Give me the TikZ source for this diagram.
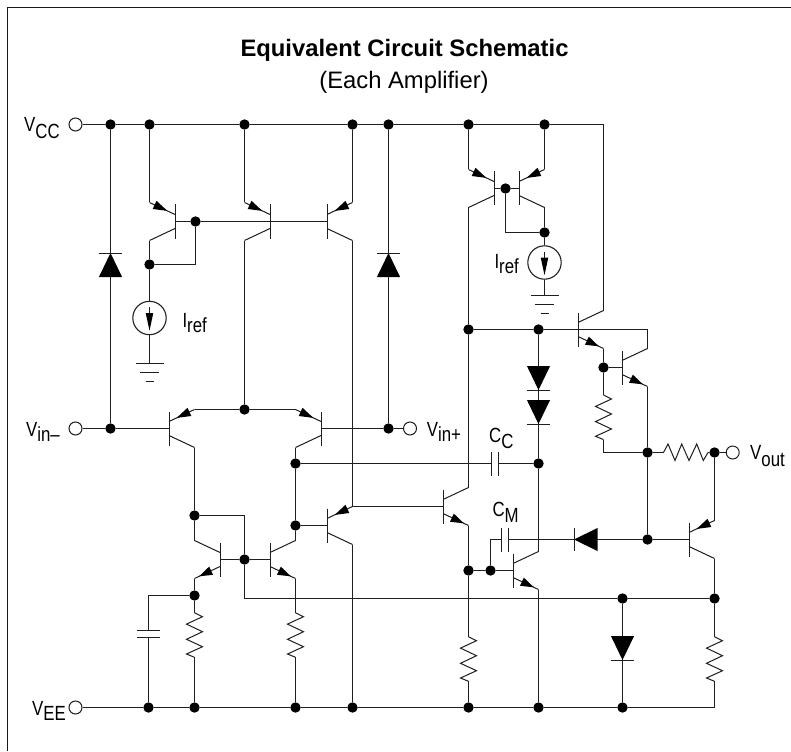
\documentclass[tikz,border=0pt]{standalone}
\usepackage{fontspec}
\setmainfont{Liberation Sans}
\newfontfamily\narrowf[FakeStretch=0.82]{Liberation Sans}
\tikzset{
  x=1pt,y=-1pt,
  wire/.style={line width=1.15pt,draw=black!88},
  part/.style={line width=1pt,draw=black!88},
  jdot/.style={circle,fill=black,inner sep=0pt,minimum size=10.4pt},
  term/.style={circle,draw=black!88,line width=1pt,fill=white,inner sep=0pt,minimum size=13pt},
  csrc/.style={circle,draw=black!88,line width=1.1pt,fill=white,inner sep=0pt,minimum size=33.4pt},
  lab/.style={inner sep=0pt,anchor=base west,font=\narrowf\fontsize{20.5}{24}\selectfont},
  ttl/.style={inner sep=0pt,anchor=base,text=black},
}
\newcommand\VS[3][6]{#2\raisebox{-#1pt}{#3}}
% transistor with emitter on the top lead (arrow toward the bar)
\newcommand\qtop[4]{\begin{scope}[shift={(#2,#3)},xscale=#4]
  \coordinate (#1-b) at (0,0);\coordinate (#1-e) at (25.5,-19);\coordinate (#1-c) at (25.5,19);
  \draw[part] (0,-17) -- (0,17);
  \draw[part] (0,-7) -- (#1-e);\draw[part] (0,7) -- (#1-c);
  \fill[black] (7.65,-10.6) -- (22.3,-12.5) -- (18.5,-20.7) -- cycle;
\end{scope}}
% transistor with emitter on the bottom lead (arrow away from the bar)
\newcommand\qbot[4]{\begin{scope}[shift={(#2,#3)},xscale=#4]
  \coordinate (#1-b) at (0,0);\coordinate (#1-c) at (25.5,-19);\coordinate (#1-e) at (25.5,19);
  \draw[part] (0,-17) -- (0,17);
  \draw[part] (0,-7) -- (#1-c);\draw[part] (0,7) -- (#1-e);
  \fill[black] (20.9,16.84) -- (7,15.3) -- (10.8,7.1) -- cycle;
\end{scope}}
\newcommand\resV[3]{\begin{scope}[shift={(#2,#3)}]
  \coordinate (#1-t) at (0,0);\coordinate (#1-b) at (0,44.6);
  \draw[part] (#1-t) -- (8,4) -- (-8,11.4) -- (8,19) -- (-8,26.6) -- (8,34) -- (-8,41.3) -- (#1-b);
\end{scope}}
\newcommand\diodeV[3]{\begin{scope}[shift={(#1,#2)},yscale=#3]
  \fill[black] (0,0) -- (11.6,24) -- (-11.6,24) -- cycle;
  \draw[part] (-11.6,0) -- (11.6,0);
\end{scope}}
\newcommand\diodeH[2]{\begin{scope}[shift={(#1,#2)}]
  \fill[black] (0,0) -- (23.7,-11.6) -- (23.7,11.6) -- cycle;
  \draw[part] (0,-11.6) -- (0,11.6);
\end{scope}}
\newcommand\gnd[2]{\begin{scope}[shift={(#1,#2)}]
  \draw[part] (-14,0) -- (14,0);\draw[part] (-9.5,9) -- (9.5,9);\draw[part] (-4,18) -- (4,18);
\end{scope}}
\newcommand\csarrow[2]{\begin{scope}[shift={(#1,#2)}]
  \draw[part] (0,-11) -- (0,0);
  \fill[black] (-3.8,-5) -- (3.8,-5) -- (0,12.7) -- cycle;
\end{scope}}
\begin{document}
\begin{tikzpicture}
\useasboundingbox (0,0) rectangle (791,751);
\draw[line width=1.5pt,black!90] (791,7.5) -- (7.5,7.5) -- (7.5,751);
\node[ttl,font=\bfseries\fontsize{23.8}{26}\selectfont] (title) at (404.5,56.5) {Equivalent Circuit Schematic};
\node[ttl,font=\fontsize{23.8}{26}\selectfont] (subtitle) at (404,89) {(Each Amplifier)};

% transistors
\qtop{Qa}{175}{221.5}{-1}
\qtop{Qb}{270}{221.5}{-1}
\qtop{Qc}{327}{221.5}{1}
\qtop{DL}{169}{428.5}{1}
\qtop{DR}{321}{428.5}{-1}
\qbot{ML}{220}{559.5}{-1}
\qbot{MR}{270}{559.5}{1}
\qtop{Qe}{327}{525.5}{1}
\qbot{Mid}{443}{506.5}{1}
\qtop{TL}{494}{188.5}{-1}
\qtop{TR}{519}{188.5}{1}
\qbot{Da}{578}{329.5}{1}
\qbot{Db}{622}{367.5}{1}
\qbot{QB}{513}{570.5}{1}
\qtop{QO}{689}{539.5}{1}

% resistors
\resV{Ra}{194.5}{612.7}
\resV{Rb}{295.5}{612.7}
\resV{Rc}{603.5}{395}
\resV{Rd}{468.5}{636.7}
\resV{Re}{714.5}{636.7}
\coordinate (Rf-l) at (663.5,452.5);
\coordinate (Rf-r) at (708,452.5);
\draw[part] (Rf-l) -- (668,444) -- (675,460.5) -- (681.7,444) -- (689,460.5) -- (696.7,444) -- (703.3,460.5) -- (Rf-r);

% terminals
\node[term] (vcc) at (75.5,124.5) {};
\node[term] (vinm) at (75.5,428.5) {};
\node[term] (vinp) at (410,428.5) {};
\node[term] (vee) at (75.5,707.5) {};
\node[term] (vout) at (732.7,452.5) {};

% junction dots: top rail
\node[jdot] (tA) at (110.5,124.5) {};
\node[jdot] (tB) at (149.5,124.5) {};
\node[jdot] (tC) at (244.5,124.5) {};
\node[jdot] (tD) at (352.5,124.5) {};
\node[jdot] (tE) at (388.5,124.5) {};
\node[jdot] (tF) at (468.5,124.5) {};
\node[jdot] (tG) at (544.5,124.5) {};
\coordinate (tH) at (603.5,124.5);
% bottom rail
\node[jdot] (bA) at (148.5,707.5) {};
\node[jdot] (bB) at (194.5,707.5) {};
\node[jdot] (bC) at (295.5,707.5) {};
\node[jdot] (bD) at (352.5,707.5) {};
\node[jdot] (bE) at (468.5,707.5) {};
\node[jdot] (bF) at (538.5,707.5) {};
\node[jdot] (bG) at (622.5,707.5) {};
\coordinate (bH) at (714.5,707.5);
% others
\node[jdot] (inA) at (110.5,428.5) {};
\node[jdot] (inB) at (388.5,428.5) {};
\node[jdot] (a1) at (149.5,264.5) {};
\node[jdot] (a2) at (195.5,221.5) {};
\node[jdot] (dT) at (244.5,409.5) {};
\node[jdot] (c1) at (194.5,515.5) {};
\node[jdot] (m1) at (244.5,559.5) {};
\node[jdot] (e1) at (194.5,595.5) {};
\node[jdot] (b1) at (295.5,463.5) {};
\node[jdot] (b2) at (295.5,525.5) {};
\node[jdot] (c2) at (538.5,463.5) {};
\node[jdot] (k1) at (505.5,188.5) {};
\node[jdot] (k2) at (544.5,232.5) {};
\node[jdot] (p1) at (468.5,329.5) {};
\node[jdot] (p2) at (538.5,329.5) {};
\node[jdot] (q1) at (603.5,367.5) {};
\node[jdot] (q2) at (647.5,452.5) {};
\node[jdot] (q3) at (647.5,539.5) {};
\node[jdot] (o1) at (714.5,452.5) {};
\node[jdot] (midE) at (468.5,570.5) {};
\node[jdot] (c3) at (490.5,570.5) {};
\node[jdot] (r1) at (622.5,598.5) {};
\node[jdot] (r2) at (714.5,598.5) {};
\coordinate (pc) at (647.5,329.5);

% current sources
\node[csrc] (csA) at (149.5,318) {};
\node[csrc] (csB) at (544.5,262.5) {};
\coordinate (gA) at (149.5,363.5);
\coordinate (gB) at (544.5,295.5);
\csarrow{149.5}{318}
\csarrow{544.5}{262.5}
\gnd{149.5}{363.5}
\gnd{544.5}{295.5}

% capacitor plate points
\coordinate (cpL) at (148.5,630.5);
\coordinate (cpR) at (148.5,637.5);
\coordinate (ccL) at (491.5,463.5);
\coordinate (ccR) at (498.5,463.5);
\coordinate (cmL) at (501.5,539.5);
\coordinate (cmR) at (508.5,539.5);
\draw[part] (136.9,630.5) -- (160.1,630.5) (136.9,637.5) -- (160.1,637.5);
\draw[part] (491.5,451.5) -- (491.5,475.5) (498.5,451.5) -- (498.5,475.5);
\draw[part] (501.5,527.5) -- (501.5,551.5) (508.5,527.5) -- (508.5,551.5);

% wires
\draw[wire] (vcc) -- (tA) -- (tB) -- (tC) -- (tD) -- (tE) -- (tF) -- (tG) -- (tH) -- (Da-c);
\draw[wire] (vee) -- (bA) -- (bB) -- (bC) -- (bD) -- (bE) -- (bF) -- (bG);
\draw[wire] (bG) -- (bH) -- (Re-b);
\draw[wire] (tA) -- (inA);
\draw[wire] (tE) -- (inB);
\draw[wire] (vinm) -- (inA) -- (DL-b);
\draw[wire] (DR-b) -- (inB) -- (vinp);
\draw[wire] (tB) -- (Qa-e);
\draw[wire] (tC) -- (Qb-e);
\draw[wire] (tD) -- (Qc-e);
\draw[wire] (Qa-c) -- (a1) -- (csA) -- (gA);
\draw[wire] (Qa-b) -- (a2) -- (Qc-b);
\draw[wire] (a2) |- (a1);
\draw[wire] (Qb-c) -- (dT);
\draw[wire] (DL-e) -- (dT) -- (DR-e);
\draw[wire] (DL-c) -- (c1) -- (ML-c);
\draw[wire] (c1) -| (m1);
\draw[wire] (ML-b) -- (m1) -- (MR-b);
\draw[wire] (m1) |- (r1);
\draw[wire] (r1) -- (r2);
\draw[wire] (ML-e) -- (e1) -- (Ra-t);
\draw[wire] (Ra-b) -- (bB);
\draw[wire] (e1) -| (cpL);
\draw[wire] (cpR) -- (bA);
\draw[wire] (DR-c) -- (b1) -- (b2) -- (MR-c);
\draw[wire] (MR-e) -- (Rb-t);
\draw[wire] (Rb-b) -- (bC);
\draw[wire] (b1) -- (ccL);
\draw[wire] (ccR) -- (c2);
\draw[wire] (Qc-c) -- (Qe-e);
\draw[wire] (Qe-e) -- (Mid-b);
\draw[wire] (b2) -- (Qe-b);
\draw[wire] (Qe-c) -- (bD);
\draw[wire] (tF) -- (TL-e);
\draw[wire] (tG) -- (TR-e);
\draw[wire] (TL-b) -- (k1) -- (TR-b);
\draw[wire] (k1) |- (k2);
\draw[wire] (TR-c) -- (k2) -- (csB) -- (gB);
\draw[wire] (TL-c) -- (p1) -- (Mid-c);
\draw[wire] (p1) -- (p2) -- (Da-b);
\draw[wire] (Da-b) -- (pc) -- (Db-c);
\draw[wire] (Da-e) -- (q1) -- (Rc-t);
\draw[wire] (q1) -- (Db-b);
\draw[wire] (Rc-b) |- (q2);
\draw[wire] (Db-e) -- (q2) -- (q3);
\draw[wire] (q2) -- (Rf-l);
\draw[wire] (Rf-r) -- (o1) -- (vout);
\draw[wire] (o1) -- (QO-e);
\draw[wire] (q3) -- (QO-b);
\draw[wire] (q3) -- (cmR);
\draw[wire] (cmL) -| (c3);
\draw[wire] (midE) -- (c3) -- (QB-b);
\draw[wire] (Mid-e) -- (midE) -- (Rd-t);
\draw[wire] (Rd-b) -- (bE);
\draw[wire] (p2) -- (c2) -- (QB-c);
\draw[wire] (QB-e) -- (bF);
\draw[wire] (r1) -- (bG);
\draw[wire] (QO-c) -- (r2) -- (Re-t);

% diodes
\diodeV{110.5}{253}{1}
\diodeV{388.5}{253}{1}
\diodeV{538.5}{390}{-1}
\diodeV{538.5}{424}{-1}
\diodeV{622.5}{660}{-1}
\diodeH{574}{539.5}

% labels
\node[lab] (lVcc) at (24,132) {\VS[7]{V}{CC}};
\node[lab] (lVm) at (26,436) {\VS[5]{V}{in–}};
\node[lab] (lVee) at (32,715) {\VS[5]{V}{EE}};
\node[lab] (lVp) at (426.7,436) {\VS[5]{V}{in+}};
\node[lab] (lVo) at (750,459.5) {\VS[7]{V}{out}};
\node[lab] (lCc) at (489,442.7) {\VS[6]{C}{C}};
\node[lab] (lCm) at (492.3,516.7) {\VS[6]{C}{M}};
\node[lab] (lIa) at (182.3,327.3) {\VS[5]{I}{ref}};
\node[lab] (lIb) at (494.3,268.3) {\VS[5]{I}{ref}};
\end{tikzpicture}
\end{document}
